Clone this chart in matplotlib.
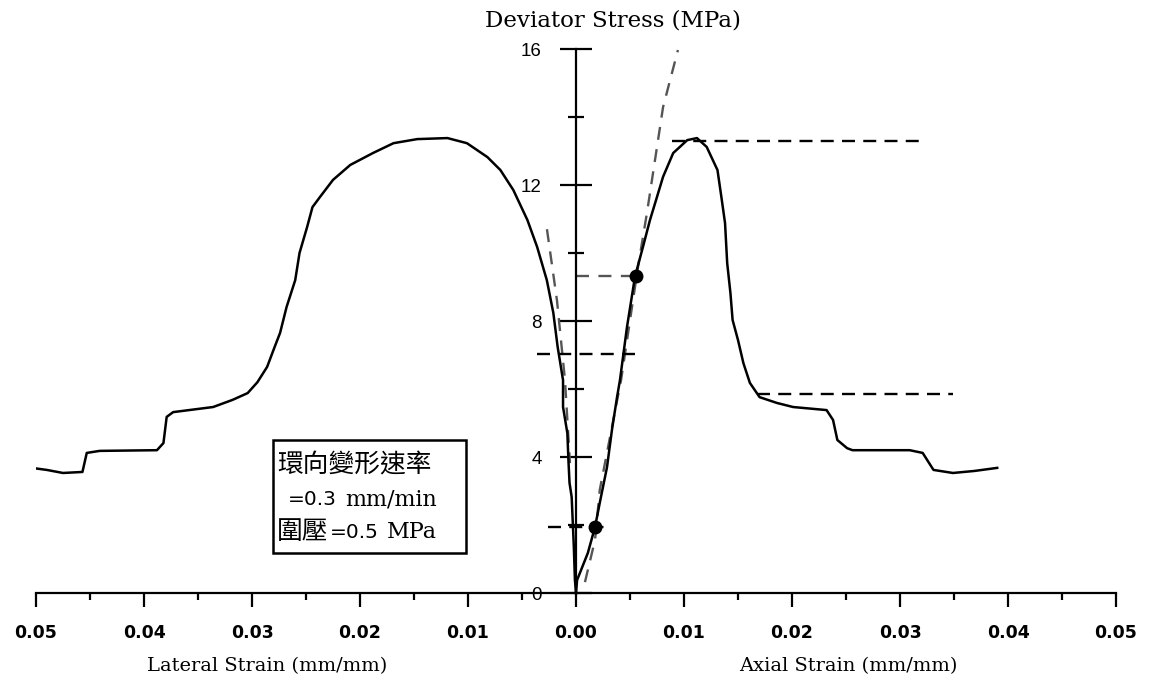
import numpy as np
import matplotlib.pyplot as plt
from matplotlib.ticker import FixedLocator

# axial strain (mm/mm) vs deviator stress (MPa)
axial_strain = [0, 0.0001, 0.0011, 0.00176, 0.0022, 0.00287, 0.00333, 0.0038, 0.00407,
                0.00472, 0.00546, 0.0062, 0.00685, 0.0075, 0.00806, 0.009, 0.0103, 0.0112,
                0.0121, 0.0131, 0.0135, 0.0138, 0.014, 0.0143, 0.0145, 0.015, 0.0155,
                0.0161, 0.017, 0.0186, 0.0201, 0.0232, 0.0238, 0.0242, 0.0251, 0.0256,
                0.0309, 0.0321, 0.0331, 0.0349, 0.0369, 0.039]
axial_stress = [0, 0.38, 1.18, 1.94, 2.65, 3.7, 4.8, 5.76, 6.26,
                7.82, 9.3, 10.18, 10.97, 11.65, 12.24, 12.94, 13.32, 13.38,
                13.12, 12.44, 11.56, 10.88, 9.7, 8.82, 8.03, 7.44, 6.76,
                6.18, 5.76, 5.59, 5.47, 5.38, 5.09, 4.5, 4.26, 4.2,
                4.2, 4.12, 3.62, 3.53, 3.59, 3.68]

# lateral strain (magnitude, drawn to the left)
lateral_strain = [0, 0.0001, 0.0002, 0.0004, 0.0006, 0.0007, 0.0008, 0.0012, 0.0012,
                  0.0017, 0.0021, 0.0027, 0.0036, 0.0045, 0.0058, 0.007, 0.0082, 0.0101,
                  0.0119, 0.0147, 0.0169, 0.0188, 0.0209, 0.0225, 0.0237, 0.0244, 0.0249,
                  0.0256, 0.026, 0.0268, 0.0274, 0.0279, 0.0286, 0.0295, 0.0304, 0.0318,
                  0.0336, 0.0373, 0.0379, 0.0382, 0.0388, 0.0441, 0.0453, 0.0457, 0.0475,
                  0.049, 0.0504]
lateral_stress = [0, 0.38, 1.35, 2.82, 3.24, 3.9, 4.7, 5.47, 6.26,
                  7.24, 8.24, 9.2, 10.18, 10.97, 11.85, 12.44, 12.82, 13.23,
                  13.38, 13.35, 13.23, 12.94, 12.59, 12.15, 11.65, 11.35, 10.76,
                  10.0, 9.2, 8.41, 7.65, 7.24, 6.65, 6.2, 5.88, 5.68,
                  5.47, 5.32, 5.18, 4.41, 4.2, 4.18, 4.12, 3.56, 3.53,
                  3.62, 3.68]

# tangent (gray dashed) lines
tan_ax_x = [0.00083, 0.00176, 0.0022, 0.00417, 0.00574, 0.00657, 0.0075, 0.00806, 0.00944]
tan_ax_y = [0.32, 1.56, 3.03, 6.26, 9.59, 11.18, 13.12, 14.29, 15.97]
tan_lat_x = [0.00269, 0.00176, 0.00102, 0.00056]
tan_lat_y = [10.7, 8.6, 6.26, 3.82]

# marked points
pt_x = [0.0056, 0.0018]
pt_y = [9.32, 1.94]

# horizontal guide lines: (y, x_start, x_end)
black_guides = [(13.28, 0.0089, 0.0324), (5.85, 0.0168, 0.0349),
                (7.03, -0.0036, 0.0056), (1.94, -0.0026, 0.0032)]
gray_guides = [(9.32, 0.0, 0.0055)]

xticks = [-0.05, -0.04, -0.03, -0.02, -0.01, 0.0, 0.01, 0.02, 0.03, 0.04, 0.05]
yticks = [0, 4, 8, 12, 16]

fig = plt.figure(figsize=(11.52, 6.88), dpi=100)
ymin, ymax = -2.0, 16.5
ppu = 34.0  # pixels per MPa
bottom_px = 593 + (0 - ymin) * ppu
top_px = 49 - (ymax - 16) * ppu
ax = fig.add_axes([36 / 1152, (688 - bottom_px) / 688, 1080 / 1152, (bottom_px - top_px) / 688])
ax.set_xlim(-0.05, 0.05)
ax.set_ylim(ymin, ymax)

for s in ['top', 'right']:
    ax.spines[s].set_visible(False)
ax.spines['left'].set_position(('data', 0))
ax.spines['bottom'].set_position(('data', 0))
ax.spines['left'].set_bounds(0, 16)
ax.spines['left'].set_linewidth(1.6)
ax.spines['bottom'].set_linewidth(1.6)

ax.set_xticks(xticks)
ax.set_xticklabels(['%.2f' % abs(v) for v in xticks], fontfamily='DejaVu Sans',
                   fontweight='bold', fontsize=12.5)
ax.xaxis.set_minor_locator(FixedLocator(np.arange(-0.045, 0.05, 0.01)))
ax.tick_params(axis='x', which='major', direction='out', length=10, width=1.6, pad=12)
ax.tick_params(axis='x', which='minor', direction='out', length=5, width=1.6)

ax.set_yticks(yticks)
ax.set_yticklabels([str(v) for v in yticks], fontfamily='Liberation Sans', fontsize=13.5)
ax.yaxis.set_minor_locator(FixedLocator([2, 6, 10, 14]))
ax.tick_params(axis='y', which='major', direction='inout', length=23, width=1.6, pad=13)
ax.tick_params(axis='y', which='minor', direction='inout', length=11.5, width=1.6)

# curves
ax.plot(axial_strain, axial_stress, color='black', lw=1.8, zorder=3)
ax.plot([-v for v in lateral_strain], lateral_stress, color='black', lw=1.8, zorder=3)

ax.plot(tan_ax_x, tan_ax_y, color='#555555', lw=1.7, dashes=(5.5, 4), zorder=2)
ax.plot([-v for v in tan_lat_x], tan_lat_y, color='#555555', lw=1.7, dashes=(5.5, 4), zorder=2)

for y, x0, x1 in black_guides:
    ax.plot([x0, x1], [y, y], color='black', lw=1.7, dashes=(5.5, 3.5), zorder=2)
for y, x0, x1 in gray_guides:
    ax.plot([x0, x1], [y, y], color='#555555', lw=1.7, dashes=(5.5, 4), zorder=2)

ax.plot(pt_x, pt_y, 'o', color='black', markersize=9, zorder=4)

# titles
ax.text(0.0034, 16.85, 'Deviator Stress (MPa)', ha='center', va='center',
        fontfamily='DejaVu Serif', fontsize=16.5)
ax.text(-0.0286, -2.15, 'Lateral Strain (mm/mm)', ha='center', va='center',
        fontfamily='DejaVu Serif', fontsize=14)
ax.text(0.0252, -2.15, 'Axial Strain (mm/mm)', ha='center', va='center',
        fontfamily='DejaVu Serif', fontsize=14)

# annotation box
cjk = ['Noto Sans CJK TC', 'DejaVu Sans']
box = plt.Rectangle((-0.0281, 1.18), 0.0179, 3.32, fill=False, lw=1.8, color='black', zorder=5)
ax.add_patch(box)
ax.text(-0.0277, 3.76, '環向變形速率', ha='left', va='center', family=cjk, fontsize=18.5)
ax.text(-0.0267, 2.74, '=0.3', ha='left', va='center', fontfamily='DejaVu Sans', fontsize=14.5)
ax.text(-0.0214, 2.74, 'mm/min', ha='left', va='center', fontfamily='DejaVu Serif', fontsize=16)
ax.text(-0.0277, 1.79, '圍壓', ha='left', va='center', family=cjk, fontsize=18.5)
ax.text(-0.0228, 1.79, '=0.5', ha='left', va='center', fontfamily='DejaVu Sans', fontsize=14.5)
ax.text(-0.0175, 1.79, 'MPa', ha='left', va='center', fontfamily='DejaVu Serif', fontsize=16)

fig.savefig('out.png', dpi=100)
